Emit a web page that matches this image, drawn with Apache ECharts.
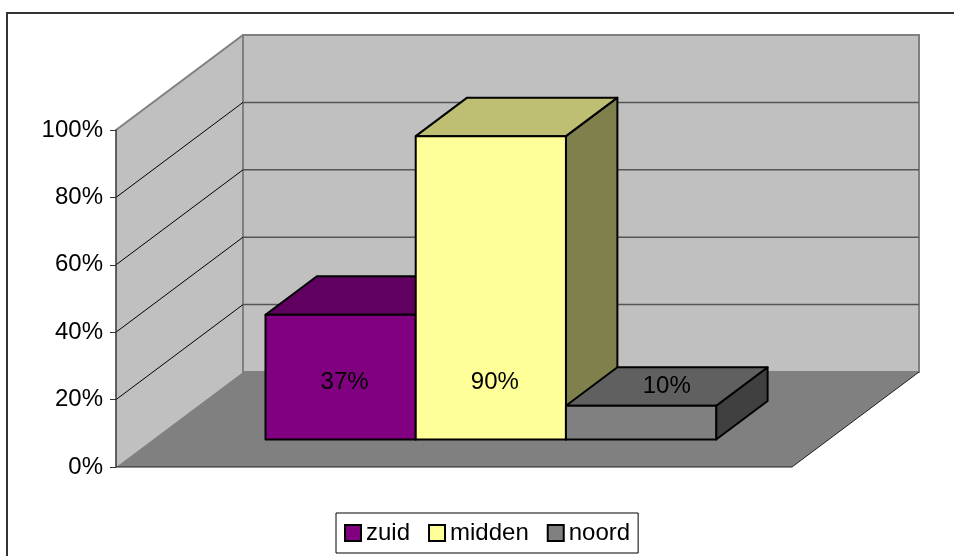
<!DOCTYPE html>
<html lang="nl">
<head>
    <meta charset="UTF-8">
    <title>zuid midden noord</title>
    <script src="https://cdn.jsdelivr.net/npm/echarts@6/dist/echarts.min.js"></script>
    <style>
        html, body { margin: 0; padding: 0; background: #fff; }
        #chart { width: 954px; height: 556px; }
    </style>
</head>
<body>
    <div id="chart"></div>
    <script>
        // data
        var seriesNames = ['zuid', 'midden', 'noord'];
        var seriesValues = [0.37, 0.90, 0.10];
        var tickValues = [0, 0.2, 0.4, 0.6, 0.8, 1];
        // front / top / side colours per bar
        var frontColors = ['#800080', '#FFFF99', '#808080'];
        var topColors = ['#600060', '#BFBF73', '#606060'];
        var sideColors = ['#400040', '#80804D', '#404040'];

        var DX = 127, DY = -95;      // depth of the floor in pixels
        var D0 = 0.29, D1 = 0.695;   // bar depth range (fraction of floor depth)
        var FONT = 'Arial, "Liberation Sans", sans-serif';

        function pct(v) { return Math.round(v * 100) + '%'; }

        function renderWalls(params, api) {
            var band = api.size([1, 0])[0];
            var x0 = api.coord([0, 0])[0] - band / 2;
            var x1 = x0 + band;
            var yb = api.coord([0, 0])[1];
            var yt = api.coord([0, 1])[1];
            var kids = [];
            var wallStyle = { fill: '#C0C0C0', stroke: '#808080', lineWidth: 2 };
            kids.push({ type: 'polygon', shape: { points: [[x0, yb], [x0 + DX, yb + DY], [x0 + DX, yt + DY], [x0, yt]] },
                style: { fill: '#C0C0C0', stroke: null } });
            kids.push({ type: 'polyline', shape: { points: [[x0, yt], [x0 + DX, yt + DY]] },
                style: { stroke: '#808080', lineWidth: 2, fill: null } });
            kids.push({ type: 'rect', shape: { x: x0 + DX, y: yt + DY, width: band, height: yb - yt },
                style: wallStyle });
            kids.push({ type: 'polygon', shape: { points: [[x0, yb], [x1, yb], [x1 + DX, yb + DY], [x0 + DX, yb + DY]] },
                style: { fill: '#808080', stroke: null } });
            kids.push({ type: 'polyline', shape: { points: [[x0, yb], [x1, yb], [x1 + DX, yb + DY]] },
                style: { stroke: '#222', lineWidth: 1, fill: null } });
            tickValues.forEach(function (t) {
                if (t <= 0 || t >= 1) return;
                var y = api.coord([0, t])[1];
                kids.push({ type: 'line', shape: { x1: x0 + DX, y1: y + DY, x2: x1 + DX, y2: y + DY },
                    style: { stroke: '#555', lineWidth: 1.5 } });
                kids.push({ type: 'line', shape: { x1: x0, y1: y, x2: x0 + DX, y2: y + DY },
                    style: { stroke: '#000', lineWidth: 1 } });
            });
            return { type: 'group', children: kids };
        }

        function makeBarRenderer(i) {
            return function (params, api) {
                var band = api.size([1, 0])[0];
                var w = band / 4.5;
                var xl = api.coord([0, 0])[0] - 1.5 * w + i * w + D0 * DX;
                var xr = xl + w;
                var yb = api.coord([0, 0])[1] + D0 * DY;
                var v = api.value(1);
                var yt = api.coord([0, v])[1] + D0 * DY;
                var ddx = (D1 - D0) * DX, ddy = (D1 - D0) * DY;
                var line = { stroke: '#000', lineWidth: 2, lineJoin: 'round' };
                var kids = [
                    { type: 'polygon', shape: { points: [[xr, yb], [xr + ddx, yb + ddy], [xr + ddx, yt + ddy], [xr, yt]] },
                        style: Object.assign({ fill: sideColors[i] }, line) },
                    { type: 'polygon', shape: { points: [[xl, yt], [xr, yt], [xr + ddx, yt + ddy], [xl + ddx, yt + ddy]] },
                        style: Object.assign({ fill: topColors[i] }, line) },
                    { type: 'rect', shape: { x: xl, y: yt, width: w, height: yb - yt },
                        style: Object.assign({ fill: frontColors[i] }, line) }
                ];
                var lx, ly;
                if (v >= 0.2) {
                    lx = (xl + xr) / 2 + 4;
                    ly = api.coord([0, 0.17])[1] + D0 * DY;
                } else {
                    lx = (xl + xr) / 2 + ddx / 2;
                    ly = yt + ddy / 2;
                }
                kids.push({ type: 'text', style: { text: pct(v), x: lx, y: ly, align: 'center', verticalAlign: 'middle',
                    font: '24px ' + FONT, fill: '#000' } });
                return { type: 'group', children: kids };
            };
        }

        var series = [{
            name: 'walls',
            type: 'custom',
            z: 1,
            silent: true,
            renderItem: renderWalls,
            data: [[0, 1]]
        }];
        seriesNames.forEach(function (name, i) {
            series.push({
                name: name,
                type: 'custom',
                z: 2,
                renderItem: makeBarRenderer(i),
                itemStyle: { color: frontColors[i], borderColor: '#000', borderWidth: 2 },
                data: [[0, seriesValues[i]]]
            });
        });

        var myChart = echarts.init(document.getElementById('chart'));
        var option = {
            animation: false,
            backgroundColor: '#fff',
            grid: { left: 116, right: 162, top: 130, bottom: 89 },
            xAxis: { type: 'category', data: [''], show: false },
            yAxis: {
                type: 'value', min: 0, max: 1, interval: 0.2, z: 5,
                axisLine: { show: true, lineStyle: { color: '#333', width: 1.5 } },
                axisTick: { show: true, length: 6, lineStyle: { color: '#333' } },
                splitLine: { show: false },
                axisLabel: { formatter: pct, fontSize: 24, fontFamily: FONT, color: '#000', margin: 13 }
            },
            legend: {
                data: seriesNames,
                bottom: 3,
                left: 336,
                icon: 'rect',
                itemWidth: 16,
                itemHeight: 16,
                itemGap: 18,
                padding: [8, 8],
                borderColor: '#000',
                borderWidth: 1,
                borderRadius: 0,
                textStyle: { fontSize: 24, fontFamily: FONT, color: '#000', padding: [0, 0, 0, 0] }
            },
            graphic: [{
                type: 'rect',
                shape: { x: 7, y: 13, width: 1000, height: 600 },
                style: { fill: null, stroke: '#333', lineWidth: 2 },
                silent: true
            }],
            series: series
        };
        myChart.setOption(option);
    </script>
</body>
</html>
